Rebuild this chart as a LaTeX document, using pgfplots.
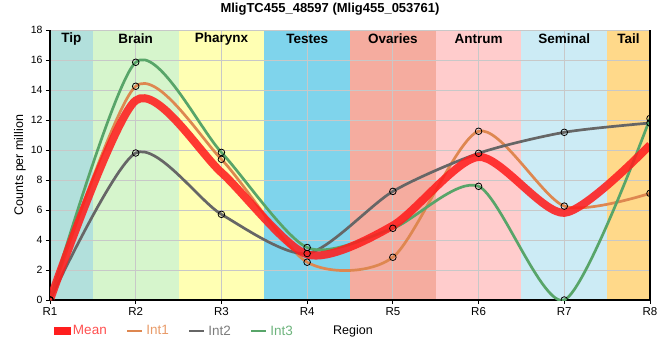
\documentclass[border=0pt]{standalone}
\usepackage{fontspec}
\setmainfont{Liberation Sans}
\usepackage{pgfplots}
\usepackage{pgfplotstable}
\pgfplotsset{compat=1.18}
\definecolor{cMean}{RGB}{255,30,30}
\definecolor{cInt1}{RGB}{222,135,80}
\definecolor{cInt2}{RGB}{102,102,102}
\definecolor{cInt3}{RGB}{88,165,105}
\definecolor{tMean}{RGB}{255,80,80}
\definecolor{tInt1}{RGB}{232,155,105}
\definecolor{tInt2}{RGB}{125,125,125}
\definecolor{tInt3}{RGB}{110,180,125}
\definecolor{bTip}{RGB}{178,224,220}
\definecolor{bBrain}{RGB}{214,245,204}
\definecolor{bPharynx}{RGB}{255,255,179}
\definecolor{bTestes}{RGB}{127,212,236}
\definecolor{bOvaries}{RGB}{245,172,159}
\definecolor{bAntrum}{RGB}{255,204,204}
\definecolor{bSeminal}{RGB}{204,235,245}
\definecolor{bTail}{RGB}{255,217,138}
\definecolor{cGrid}{RGB}{200,200,200}
\pgfplotstableread{
x Int1 Int2 Int3 Mean
1 0 0 0 0
2 14.25 9.8 15.85 13.3
3 9.38 5.71 9.84 8.5
4 2.52 3.1 3.5 3.04
5 2.85 7.24 4.78 4.96
6 11.25 9.78 7.58 9.54
7 6.26 11.18 0 5.81
8 7.11 11.8 12.1 10.34
}\datatable
\begin{document}
\begin{tikzpicture}
\begin{axis}[
  set layers,
  clip mode=individual,
  at={(0,0)}, anchor=south west,
  scale only axis, width=600pt, height=270pt,
  xmin=1, xmax=8, ymin=0, ymax=18,
  xtick={1,...,8}, xticklabels={R1,R2,R3,R4,R5,R6,R7,R8},
  ytick={0,2,...,18},
  axis x line*=bottom, axis y line*=left,
  axis line style={black, line width=1.6pt, -},
  tick align=outside, major tick length=4pt,
  tick style={black, line width=0.8pt},
  grid=major, grid style={cGrid, line width=0.8pt},
  xticklabel style={font=\fontsize{11.5}{13}\selectfont},
  yticklabel style={font=\fontsize{10.5}{13}\selectfont},
  /pgf/number format/assume math mode=true,
  clip marker paths=true,
  legend style={at={(axis description cs:0.004,-0.115)}, anchor=west, draw=none, fill=none,
    font=\fontsize{13.5}{15}\selectfont, legend columns=4, inner sep=1pt,
    /tikz/every even column/.append style={column sep=17pt},
    /tikz/every odd column/.append style={column sep=1pt}},
]
\addplot[draw=none, fill=bTip, forget plot, on layer=axis background] coordinates {(1,0) (1,18) (1.5,18) (1.5,0)} -- cycle;
\addplot[draw=none, fill=bBrain, forget plot, on layer=axis background] coordinates {(1.5,0) (1.5,18) (2.5,18) (2.5,0)} -- cycle;
\addplot[draw=none, fill=bPharynx, forget plot, on layer=axis background] coordinates {(2.5,0) (2.5,18) (3.5,18) (3.5,0)} -- cycle;
\addplot[draw=none, fill=bTestes, forget plot, on layer=axis background] coordinates {(3.5,0) (3.5,18) (4.5,18) (4.5,0)} -- cycle;
\addplot[draw=none, fill=bOvaries, forget plot, on layer=axis background] coordinates {(4.5,0) (4.5,18) (5.5,18) (5.5,0)} -- cycle;
\addplot[draw=none, fill=bAntrum, forget plot, on layer=axis background] coordinates {(5.5,0) (5.5,18) (6.5,18) (6.5,0)} -- cycle;
\addplot[draw=none, fill=bSeminal, forget plot, on layer=axis background] coordinates {(6.5,0) (6.5,18) (7.5,18) (7.5,0)} -- cycle;
\addplot[draw=none, fill=bTail, forget plot, on layer=axis background] coordinates {(7.5,0) (7.5,18) (8,18) (8,0)} -- cycle;
\addlegendimage{legend image code/.code={\fill[cMean] (0pt,-3.5pt) rectangle (16pt,3.5pt);}}
\addlegendentry{\textcolor{tMean}{Mean}}
\addlegendimage{legend image code/.code={\draw[cInt1, line width=2.5pt] (0pt,0pt) -- (15pt,0pt);}}
\addlegendentry{\textcolor{tInt1}{Int1}}
\addlegendimage{legend image code/.code={\draw[cInt2, line width=2.5pt] (0pt,0pt) -- (15pt,0pt);}}
\addlegendentry{\textcolor{tInt2}{Int2}}
\addlegendimage{legend image code/.code={\draw[cInt3, line width=2.5pt] (0pt,0pt) -- (15pt,0pt);}}
\addlegendentry{\textcolor{tInt3}{Int3}}
\addplot[cInt1, line width=2.7pt, smooth, tension=0.45, no marks, forget plot] table[x=x, y=Int1] {\datatable};
\addplot[cInt2, line width=2.7pt, smooth, tension=0.45, no marks, forget plot] table[x=x, y=Int2] {\datatable};
\addplot[cInt3, line width=2.7pt, smooth, tension=0.45, no marks, forget plot] table[x=x, y=Int3] {\datatable};
\addplot[cMean, opacity=0.88, line width=8pt, smooth, tension=0.45, no marks, forget plot] table[x=x, y=Mean] {\datatable};
\addplot[only marks, mark=o, mark size=3.3pt, mark options={black, line width=0.8pt}, forget plot] table[x=x, y=Int1] {\datatable};
\addplot[only marks, mark=o, mark size=3.3pt, mark options={black, line width=0.8pt}, forget plot] table[x=x, y=Int2] {\datatable};
\addplot[only marks, mark=o, mark size=3.3pt, mark options={black, line width=0.8pt}, forget plot] table[x=x, y=Int3] {\datatable};
\draw[black, line width=1.6pt] (axis cs:8,0) -- (axis cs:8,18);
\node[font=\fontsize{13.5}{15}\selectfont\bfseries] at (axis cs:1.25,17.4) {Tip};
\node[font=\fontsize{13.5}{15}\selectfont\bfseries] at (axis cs:2,17.4) {Brain};
\node[font=\fontsize{13.5}{15}\selectfont\bfseries] at (axis cs:3,17.4) {Pharynx};
\node[font=\fontsize{13.5}{15}\selectfont\bfseries] at (axis cs:4,17.4) {Testes};
\node[font=\fontsize{13.5}{15}\selectfont\bfseries] at (axis cs:5,17.4) {Ovaries};
\node[font=\fontsize{13.5}{15}\selectfont\bfseries] at (axis cs:6,17.4) {Antrum};
\node[font=\fontsize{13.5}{15}\selectfont\bfseries] at (axis cs:7,17.4) {Seminal};
\node[font=\fontsize{13.5}{15}\selectfont\bfseries] at (axis cs:7.75,17.4) {Tail};
\node[font=\fontsize{13}{15}\selectfont\bfseries] at (axis description cs:0.4667,1.078) {MligTC455\_48597 (Mlig455\_053761)};
\node[font=\fontsize{12.5}{14}\selectfont, rotate=90] at (axis description cs:-0.05,0.5) {Counts per million};
\node[font=\fontsize{12.5}{14}\selectfont] at (axis description cs:0.505,-0.117) {Region};
\end{axis}
\pgfresetboundingbox
\path[use as bounding box] (-50pt,-60pt) rectangle (610pt,300pt);
\end{tikzpicture}
\end{document}
